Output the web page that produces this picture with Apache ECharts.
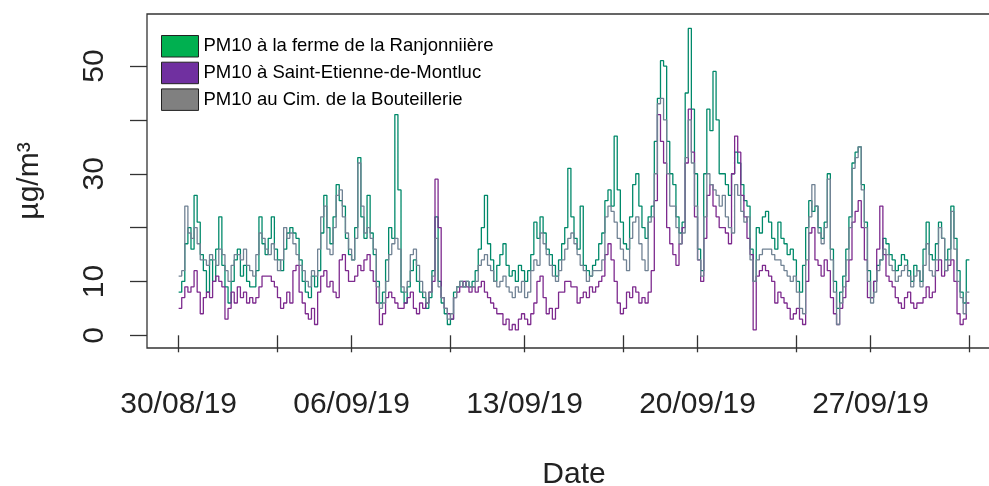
<!DOCTYPE html>
<html>
<head>
<meta charset="utf-8">
<script src="https://cdn.jsdelivr.net/npm/echarts@6/dist/echarts.min.js"></script>
<style>
  html, body { margin: 0; padding: 0; background: #fff; overflow: hidden; }
  /* the R plot region runs past the right edge of the picture, so the chart is a bit wider than the window */
  #chart { width: 1001px; height: 486px; }
</style>
</head>
<body>
<div id="chart"></div>
<script>
// PM10 (µg/m³), one value every 3 hours from 30/08/19 00:00 to 01/10/19 00:00
var pm10Ranjonniere = [
  8, 10, 17, 20, 16, 26, 21, 15,   12, 8, 14, 10, 16, 22, 13, 9,
  6, 10, 14, 16, 11, 13, 10, 9,    9, 12, 22, 17, 15, 18, 22, 16,
  14, 12, 16, 19, 20, 19, 18, 14,  10, 8, 7, 11, 9, 12, 19, 26,
  20, 17, 22, 28, 25, 24, 18, 15,  14, 20, 33, 22, 18, 26, 19, 15,
  10, 6, 8, 14, 20, 18, 41, 27,    8, 6, 9, 12, 14, 10, 8, 7,
  5, 7, 12, 22, 10, 6, 4, 2,       3, 8, 9, 10, 9, 10, 9, 10,
  12, 16, 20, 26, 17, 14, 10, 13,  15, 17, 13, 11, 12, 10, 13, 12,
  10, 12, 15, 21, 18, 22, 19, 16,  15, 13, 11, 14, 17, 20, 31, 22,
  18, 16, 24, 13, 12, 11, 13, 14,  17, 19, 25, 27, 24, 37, 27, 21,
  17, 16, 22, 28, 30, 24, 20, 18,  22, 24, 36, 44, 51, 50, 36, 30,
  28, 22, 19, 21, 45, 57, 42, 30,  16, 12, 30, 42, 38, 49, 40, 30,
  30, 28, 26, 30, 34, 32, 28, 25,  24, 16, 10, 20, 19, 22, 23, 21,
  18, 16, 21, 18, 17, 15, 16, 14,  10, 8, 13, 20, 25, 23, 24, 20,
  18, 21, 30, 16, 10, 5, 8, 11,    16, 22, 32, 34, 35, 28, 21, 12,
  7, 10, 13, 14, 18, 17, 15, 14,   12, 13, 15, 14, 12, 10, 13, 12,
  10, 16, 21, 15, 14, 17, 21, 18,  14, 16, 24, 18, 12, 8, 6, 14,
  14
];
var pm10SaintEtienne = [
  5, 7, 9, 8, 9, 12, 8, 4,         7, 8, 7, 10, 11, 10, 9, 3,
  5, 8, 6, 9, 7, 8, 6, 7,          6, 7, 9, 11, 11, 11, 10, 9,
  7, 5, 6, 8, 6, 12, 13, 8,        6, 4, 3, 5, 2, 8, 11, 12,
  9, 10, 8, 7, 14, 15, 12, 10,     10, 11, 13, 12, 14, 15, 12, 10,
  6, 2, 4, 7, 8, 7, 6, 5,          5, 6, 7, 8, 5, 4, 6, 5,
  6, 8, 10, 29, 20, 7, 5, 4,       3, 7, 8, 9, 10, 9, 8, 9,
  8, 9, 10, 8, 7, 6, 5, 4,         4, 2, 3, 1, 2, 1, 3, 4,
  3, 2, 4, 6, 10, 11, 7, 4,        5, 3, 5, 8, 8, 10, 10, 9,
  9, 6, 7, 8, 7, 9, 8, 9,          10, 11, 15, 17, 14, 10, 6, 4,
  5, 8, 7, 9, 8, 6, 7, 6,          8, 12, 25, 41, 36, 32, 20, 17,
  15, 13, 17, 20, 32, 42, 34, 22,  14, 10, 18, 26, 28, 24, 22, 20,
  20, 19, 17, 30, 37, 34, 26, 22,  18, 15, 1, 11, 12, 13, 12, 11,
  10, 6, 8, 7, 6, 5, 3, 4,         5, 3, 2, 10, 19, 20, 14, 13,
  11, 14, 12, 7, 4, 2, 5, 7,       10, 14, 21, 23, 25, 20, 14, 7,
  7, 10, 16, 24, 15, 11, 10, 9,    7, 6, 5, 7, 8, 6, 5, 6,
  6, 7, 9, 7, 8, 12, 14, 11,       12, 13, 14, 10, 4, 2, 3, 6,
  6
];
var pm10Bouteillerie = [
  11, 12, 24, 19, 18, 20, 17, 14,  14, 13, 15, 14, 13, 16, 15, 12,
  10, 13, 15, 15, 14, 16, 13, 12,  11, 15, 19, 18, 16, 15, 17, 14,
  12, 14, 20, 18, 19, 17, 15, 13,  12, 10, 9, 12, 11, 16, 22, 24,
  16, 15, 20, 26, 27, 22, 19, 16,  14, 18, 32, 24, 19, 20, 18, 16,
  9, 5, 6, 10, 15, 17, 18, 16,     9, 8, 10, 15, 16, 13, 10, 8,
  6, 8, 11, 18, 9, 7, 5, 3,        4, 7, 9, 10, 9, 10, 9, 9,
  10, 13, 14, 15, 13, 12, 10, 9,   10, 11, 9, 8, 7, 9, 8, 10,
  7, 8, 12, 14, 13, 19, 17, 15,    13, 11, 10, 12, 14, 16, 18, 19,
  17, 15, 13, 12, 10, 11, 12, 12,  12, 14, 22, 24, 23, 21, 18, 16,
  14, 12, 18, 21, 22, 17, 14, 12,  21, 22, 30, 43, 44, 40, 30, 24,
  24, 20, 17, 19, 33, 40, 32, 24,  14, 11, 22, 30, 28, 27, 26, 24,
  26, 22, 20, 19, 28, 26, 23, 21,  22, 14, 10, 14, 15, 16, 16, 16,
  15, 14, 14, 13, 12, 11, 10, 11,  8, 5, 4, 14, 22, 28, 24, 19,
  17, 20, 29, 14, 8, 2, 6, 9,      14, 20, 31, 33, 35, 27, 20, 10,
  6, 8, 12, 14, 16, 15, 13, 12,    10, 11, 12, 13, 11, 9, 11, 12,
  9, 13, 17, 12, 11, 14, 20, 18,   12, 14, 23, 16, 10, 7, 4, 8,
  8
];

var seriesNames = ['PM10 à la ferme de la Ranjonniière', 'PM10 à Saint-Etienne-de-Montluc', 'PM10 au Cim. de la Bouteillerie'];
var startDate = '2019-08-30';
var stepHours = 3;
var xTickDates = ['2019-08-30', '2019-09-03', '2019-09-06', '2019-09-10', '2019-09-13',
                  '2019-09-17', '2019-09-20', '2019-09-24', '2019-09-27', '2019-10-01'];
var xLabelDates = ['2019-08-30', '2019-09-06', '2019-09-13', '2019-09-20', '2019-09-27'];
var yTicks = [0, 10, 20, 30, 40, 50];
var yLabels = [0, 10, 30, 50];

function utc(s) {
    var p = s.split('-').map(Number);
    return Date.UTC(p[0], p[1] - 1, p[2]);
}
function pad(n) { return (n < 10 ? '0' : '') + n; }
function fmtDate(v) {
    var d = new Date(v);
    return pad(d.getUTCDate()) + '/' + pad(d.getUTCMonth() + 1) + '/' + String(d.getUTCFullYear()).substr(2);
}

var t0 = utc(startDate);
var HOUR = 3600 * 1000;
function toPairs(vals) {
    return vals.map(function (v, i) { return [t0 + i * stepHours * HOUR, v]; });
}

var font = "'Liberation Sans', Arial, sans-serif";
var lineColors = ['#00896a', '#7d2a8e', '#708294'];
var boxColors = ['#00b050', '#7030a0', '#808080'];

var chart = echarts.init(document.getElementById('chart'));
var option = {
    animation: false,
    backgroundColor: '#fff',
    textStyle: { fontFamily: font },
    grid: {
        left: 147, top: 14, right: 0, bottom: 138,
        outerBoundsMode: 'none',
        show: true, borderColor: '#333', borderWidth: 1.3
    },
    legend: {
        orient: 'vertical',
        left: 156, top: 30,
        itemWidth: 37, itemHeight: 21.5, itemGap: 4.2,
        selectedMode: false,
        textStyle: { fontFamily: font, fontSize: 18.5, color: '#000' },
        data: seriesNames.map(function (n, i) {
            return { name: n, icon: 'rect', itemStyle: { color: boxColors[i], borderColor: '#222', borderWidth: 1 } };
        })
    },
    xAxis: {
        type: 'value',
        min: t0 - 30.72 * HOUR,
        max: t0 + 798.72 * HOUR,
        name: 'Date',
        nameLocation: 'middle',
        nameGap: 112,
        nameTextStyle: { fontFamily: font, fontSize: 30, color: '#222' },
        axisLine: { show: false },
        splitLine: { show: false },
        axisTick: {
            show: true, length: 17,
            lineStyle: { color: '#333', width: 1.3 },
            customValues: xTickDates.map(utc)
        },
        axisLabel: {
            fontFamily: font, fontSize: 30, color: '#222', margin: 42,
            customValues: xLabelDates.map(utc),
            formatter: fmtDate
        }
    },
    yAxis: {
        type: 'value',
        min: -2.36, max: 59.67,
        name: 'µg/m³',
        nameLocation: 'middle',
        nameRotate: 90,
        nameGap: 102,
        nameTextStyle: { fontFamily: font, fontSize: 30, color: '#222' },
        axisLine: { show: false },
        splitLine: { show: false },
        axisTick: {
            show: true, length: 17,
            lineStyle: { color: '#333', width: 1.3 },
            customValues: yTicks
        },
        axisLabel: {
            fontFamily: font, fontSize: 30, color: '#222', margin: 37.5, rotate: 90,
            customValues: yLabels
        }
    },
    series: [
        { name: seriesNames[0], type: 'line', step: 'end', showSymbol: false, data: toPairs(pm10Ranjonniere),
          lineStyle: { color: lineColors[0], width: 1.3 }, itemStyle: { color: lineColors[0] } },
        { name: seriesNames[1], type: 'line', step: 'end', showSymbol: false, data: toPairs(pm10SaintEtienne),
          lineStyle: { color: lineColors[1], width: 1.3 }, itemStyle: { color: lineColors[1] } },
        { name: seriesNames[2], type: 'line', step: 'end', showSymbol: false, data: toPairs(pm10Bouteillerie),
          lineStyle: { color: lineColors[2], width: 1.3 }, itemStyle: { color: lineColors[2] } }
    ]
};
chart.setOption(option);
</script>
</body>
</html>
